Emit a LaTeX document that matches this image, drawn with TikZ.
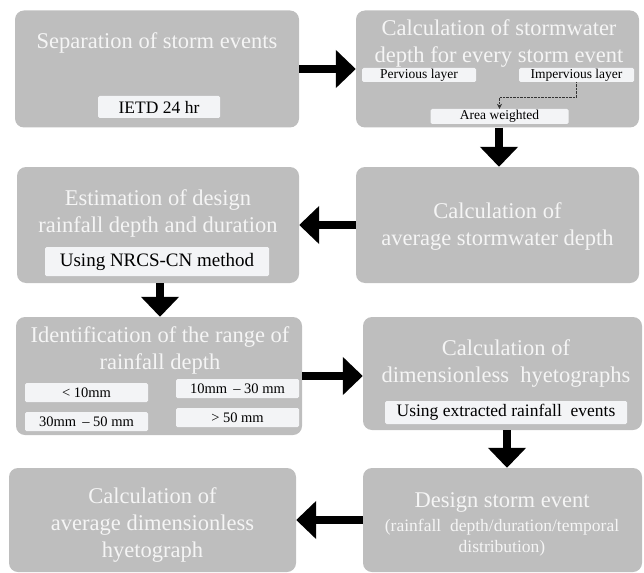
\documentclass[tikz,border=0pt]{standalone}
\usepackage{fontspec}
\setmainfont{Liberation Serif}
\usepackage{xcolor}
\usetikzlibrary{positioning, calc, arrows.meta}
\definecolor{boxgray}{RGB}{190,190,190}
\definecolor{tagfill}{RGB}{243,244,246}
\definecolor{titlewhite}{RGB}{245,245,245}

\begin{document}
\begin{tikzpicture}[x=1pt,y=-1pt,
        stepbox/.style={fill=boxgray, rounded corners=9pt, inner sep=0pt},
        title/.style={text=titlewhite, align=center, inner sep=0pt, font=\fontsize{22.5}{27}\selectfont},
        tag/.style={fill=tagfill, rounded corners=1.5pt, inner sep=0pt, font=\fontsize{#1}{#1}\selectfont},
        flow/.style={line width=8pt, -{Triangle[length=20pt,width=37pt]}},
        dotline/.style={densely dotted, thin, black!80, -{Stealth[length=5pt,width=5pt]}}
    ]
        % Frame
        \useasboundingbox (0,0) rectangle (644,572);

        % Process boxes
        \node[stepbox, minimum width=284pt, minimum height=117pt] (b1) at (157,69) {};
        \node[stepbox, minimum width=283pt, minimum height=117pt] (b2) at (497.5,69) {};
        \node[stepbox, minimum width=282pt, minimum height=116pt] (b3) at (158,225) {};
        \node[stepbox, minimum width=283pt, minimum height=116pt] (b4) at (497.5,225) {};
        \node[stepbox, minimum width=286pt, minimum height=118pt] (b5) at (159,376) {};
        \node[stepbox, minimum width=279pt, minimum height=113pt] (b6) at (502.5,373.5) {};
        \node[stepbox, minimum width=279pt, minimum height=104pt] (b7) at (502.5,520) {};
        \node[stepbox, minimum width=287pt, minimum height=104pt] (b8) at (152.5,520) {};

        % Box titles
        \node[title] (t1) at (157,43) {Separation of storm events};
        \node[title] (t2) at (499,44) {Calculation of stormwater\\depth for every storm event};
        \node[title] (t3) at (158,213.5) {Estimation of design\\rainfall depth and duration};
        \node[title] (t4) at (497.5,226.5) {Calculation of\\average stormwater depth};
        \node[title] (t5) at (160,350) {Identification of the range of\\rainfall depth};
        \node[title] (t6) at (506,363.5) {Calculation of\\dimensionless~ hyetographs};
        \node[title] (t7) at (502,502) {Design storm event};
        \node[title, font=\fontsize{17.5}{21}\selectfont] (n7) at (502,537.5) {(rainfall~ depth/duration/temporal\\distribution)};
        \node[title] (t8) at (152.5,525) {Calculation of\\average dimensionless\\hyetograph};

        % Tags inside the boxes
        \node[tag=17.5, minimum width=122pt, minimum height=22pt] (ietd) at (159,107) {IETD 24 hr};
        \node[tag=13.5, minimum width=114pt, minimum height=14pt] (perv) at (419,75) {Pervious layer};
        \node[tag=13.5, minimum width=115pt, minimum height=14pt] (imp) at (576.5,75) {Impervious layer};
        \node[tag=13.5, minimum width=138pt, minimum height=15pt] (area) at (499.5,116.5) {Area weighted};
        \node[tag=19, minimum width=224pt, minimum height=29pt] (nrcs) at (157,261.5) {Using NRCS-CN method};
        \node[tag=14.5, minimum width=123pt, minimum height=19pt] (r1) at (86.5,392.5) {< 10mm};
        \node[tag=14.5, minimum width=123pt, minimum height=19pt] (r2) at (237.5,388.5) {10mm \,– 30 mm};
        \node[tag=14.5, minimum width=123pt, minimum height=19pt] (r3) at (86.5,421.5) {30mm \,– 50 mm};
        \node[tag=14.5, minimum width=123pt, minimum height=19pt] (r4) at (237.5,417.5) {> 50 mm};
        \node[tag=17.5, minimum width=242pt, minimum height=23pt] (ext) at (506,412.5) {Using extracted rainfall~ events};

        % Impervious to area weighted
        \coordinate (elbow) at (499.5,97);
        \draw[dotline] (imp.south) |- (elbow) -- (area.north);

        % Flow arrows
        \draw[flow] (b1.east) -- (b2.west);
        \draw[flow] ([xshift=1.5pt]b2.south) -- ([xshift=1.5pt]b4.north);
        \draw[flow] (b4.west) -- (b4.west -| b3.east);
        \draw[flow] ([xshift=2pt]b3.south) -- ([xshift=2pt]b3.south |- b5.north);
        \draw[flow] (b5.east) -- (b5.east -| b6.west);
        \draw[flow] ([xshift=4.5pt]b6.south) -- ([xshift=4.5pt]b6.south |- b7.north);
        \draw[flow] (b7.west) -- (b7.west -| b8.east);
    \end{tikzpicture}
\end{document}
